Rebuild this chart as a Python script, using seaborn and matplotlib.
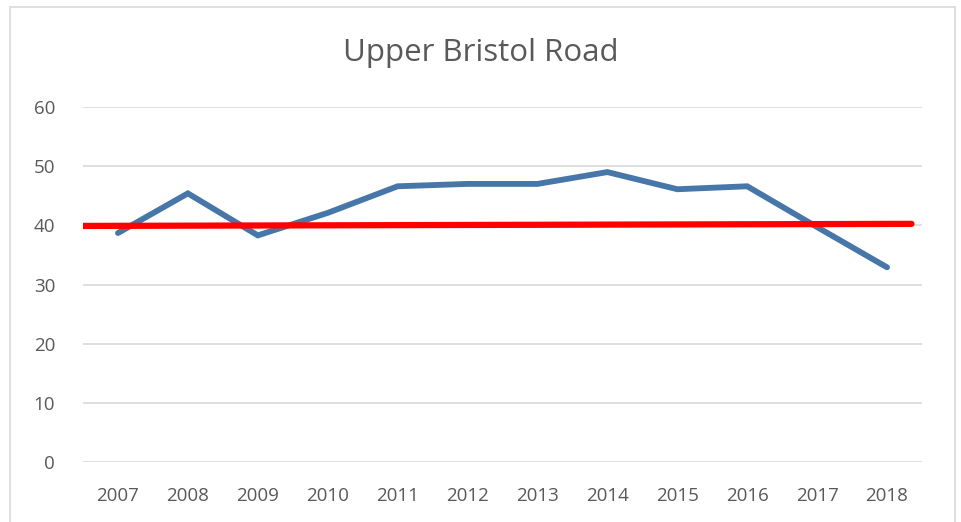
import matplotlib
matplotlib.use("Agg")
import matplotlib.pyplot as plt
import seaborn as sns
import pandas as pd
from matplotlib.patches import Rectangle

years = ["2007", "2008", "2009", "2010", "2011", "2012", "2013", "2014", "2015", "2016", "2017", "2018"]
values = [38.7, 45.4, 38.3, 42.1, 46.6, 47.0, 47.0, 49.0, 46.1, 46.6, 39.7, 32.9]
limit_x = [-0.5, 11.35]
limit_y = [39.9, 40.25]
yticks = [0, 10, 20, 30, 40, 50, 60]

sns.set_theme(style="white")
plt.rcParams['font.family'] = ['Open Sans', 'DejaVu Sans']

fig = plt.figure(figsize=(9.62, 5.22), dpi=100)
ax = fig.add_axes([83/962, 1-462/522, (922-83)/962, (462-107)/522])

df = pd.DataFrame({"x": list(range(len(years))), "value": values})
sns.lineplot(data=df, x="x", y="value", ax=ax, color="#4677A8", linewidth=4.2,
             solid_capstyle="round", solid_joinstyle="miter", zorder=3)
lim = pd.DataFrame({"x": limit_x, "y": limit_y})
sns.lineplot(data=lim, x="x", y="y", ax=ax, color="#FF0000", linewidth=4.5, zorder=4)

ax.set_xlim(-0.5, 11.5)
ax.set_ylim(0, 60)
ax.set_yticks(yticks)
ax.set_xticks(range(len(years)))
ax.set_xticklabels(years)
ax.grid(axis="y", color="#D9D9D9", linewidth=1.2)
ax.set_axisbelow(True)
for s in ax.spines.values():
    s.set_visible(False)
ax.tick_params(axis="both", length=0, labelsize=13.5, colors="#595959")
ax.tick_params(axis="x", pad=18)
ax.tick_params(axis="y", pad=20)
ax.set_xlabel("")
ax.set_ylabel("")

fig.text(0.5, 1-53/522, "Upper Bristol Road", ha="center", va="center",
         fontsize=22.5, color="#595959")

fig.patches.append(Rectangle((10/962, -0.05), (955-10)/962, 1 - 7/522 + 0.05,
                             transform=fig.transFigure, fill=False,
                             edgecolor="#D9D9D9", linewidth=1.2))

fig.savefig("out.png", dpi=100)
